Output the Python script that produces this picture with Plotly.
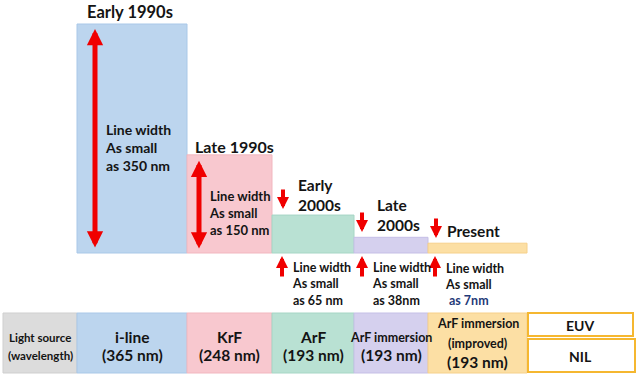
import plotly.graph_objects as go

W, H = 640, 376

# ---------------- data ----------------
technologies = ["i-line", "KrF", "ArF", "ArF immersion", "ArF immersion"]
tech_notes = ["", "", "", "", "(improved)"]
wavelengths = ["(365 nm)", "(248 nm)", "(193 nm)", "(193 nm)", "(193 nm)"]
eras = ["Early 1990s", "Late 1990s", "Early<br>2000s", "Late<br>2000s", "Present"]
min_line_width = ["as 350 nm", "as 150 nm", "as 65 nm", "as 38nm", "as 7nm"]
bar_heights = [350, 150, 58, 24, 15]   # visual bar heights (nm-equivalent scale)
next_gen = ["EUV", "NIL"]
header = ["Light source", "(wavelength)"]

# ---------------- styles / layout ----------------
fills = ["#bcd5ee", "#f8c8cf", "#b9e1d3", "#d5d0ee", "#fcdfa4"]
edges = ["#a9c8e8", "#f2b7bf", "#a6d6c5", "#c5bfe6", "#f6d08a"]
col_edges = [77, 187, 272, 354, 428, 527]     # pixel column boundaries
centers = [(a + b) / 2 for a, b in zip(col_edges[:-1], col_edges[1:])]
widths = [b - a for a, b in zip(col_edges[:-1], col_edges[1:])]
BASE_PX = 253
PX_PER_UNIT = 229 / 350
RED = "#f00000"
TXT = "#141414"
FONT = "Lato"

y_lo = -(H - BASE_PX) / PX_PER_UNIT
y_hi = BASE_PX / PX_PER_UNIT


def top_px(h):
    return BASE_PX - h * PX_PER_UNIT


fig = go.Figure()
fig.add_trace(go.Bar(
    x=centers, y=bar_heights, width=widths, base=0,
    marker=dict(color=fills, line=dict(color=edges, width=1)),
    hoverinfo="skip", showlegend=False,
))

annotations = []
shapes = []


def ann(text, px, py, size, anchor="left", bold=True, color=TXT):
    annotations.append(dict(
        text=text, xref="paper", yref="paper", x=px / W, y=1 - py / H,
        xanchor=anchor, yanchor="middle", showarrow=False, align=anchor,
        font=dict(family=FONT, size=size, color=color, weight="bold" if bold else "normal"),
    ))


def arrow(px, head_py, tail_py, both=False, width=4, size=0.6):
    annotations.append(dict(
        text="", xref="paper", yref="paper", x=px / W, y=1 - head_py / H,
        ax=0, ay=tail_py - head_py, showarrow=True, arrowhead=2, startarrowhead=2,
        arrowside="end+start" if both else "end", arrowwidth=width, arrowsize=size,
        startarrowsize=size, arrowcolor=RED, standoff=0, startstandoff=0,
    ))


# era headings
ann(eras[0], 130, 12, 16.5, "center")
ann(eras[1], 234, 146, 16, "center")
ann(eras[2], 296, 195, 15.5)
ann(eras[3], 375, 215, 15.5)
ann(eras[4], 445, 231, 15.5)

# big double arrows inside first two bars
arrow(95, top_px(bar_heights[0]) + 5, BASE_PX - 4, both=True, width=5, size=0.65)
arrow(199, top_px(bar_heights[1]) + 6, BASE_PX - 3, both=True, width=5, size=0.65)

# small down arrows next to later era labels
for xa, ya in [(283, 188), (362, 211), (436, 217)]:
    arrow(xa, ya + 21, ya, width=4, size=0.6)

# small up arrows under the later bars
for xa in [282, 362, 435]:
    arrow(xa, 256, 278, width=4, size=0.6)

# line-width texts
ann("Line width<br>As small<br>" + min_line_width[0], 103, 148, 14)
ann("Line width<br>As small<br>" + min_line_width[1], 207, 213, 13)
ann("Line width<br>As small<br>" + min_line_width[2], 290, 284, 12.5)
ann("Line width<br>As small<br>" + min_line_width[3], 370, 284, 12.5)
ann("Line width<br>As small", 443, 276, 12.5)
ann(min_line_width[4], 447, 300, 12.5, color="#1f3a78")

# ---------------- table ----------------
TOP, BOT = 313, 373
shapes.append(dict(type="rect", xref="x", yref="paper", x0=3, x1=col_edges[0],
                   y0=1 - BOT / H, y1=1 - TOP / H, fillcolor="#dcdcdc",
                   line=dict(color="#cfcfcf", width=1), layer="below"))
for i in range(5):
    shapes.append(dict(type="rect", xref="x", yref="paper", x0=col_edges[i], x1=col_edges[i + 1],
                       y0=1 - BOT / H, y1=1 - TOP / H, fillcolor=fills[i],
                       line=dict(color=edges[i], width=1), layer="below"))
ORANGE = "#f5b730"
shapes.append(dict(type="rect", xref="x", yref="paper", x0=528, x1=633,
                   y0=1 - 336 / H, y1=1 - 313 / H, fillcolor="white", line=dict(color=ORANGE, width=2)))
shapes.append(dict(type="rect", xref="x", yref="paper", x0=528, x1=635,
                   y0=1 - 372 / H, y1=1 - 339 / H, fillcolor="white", line=dict(color=ORANGE, width=2)))

ann(header[0], 40, 337, 11.5, "center")
ann(header[1], 40, 355, 11.5, "center")
for i in range(4):
    ann(technologies[i], centers[i], 337, 15.5 if i < 3 else 12.5, "center")
    ann(wavelengths[i], centers[i], 355, 15.5, "center")
ann(technologies[4], centers[4], 323, 12.5, "center")
ann(tech_notes[4], centers[4], 343, 12.5, "center")
ann(wavelengths[4], centers[4], 362, 15.5, "center")
ann(next_gen[0], 580, 325, 14, "center")
ann(next_gen[1], 580, 356, 14, "center")

fig.update_layout(
    width=W, height=H, margin=dict(l=0, r=0, t=0, b=0),
    paper_bgcolor="white", plot_bgcolor="white",
    xaxis=dict(range=[0, W], visible=False, fixedrange=True),
    yaxis=dict(range=[y_lo, y_hi], visible=False, fixedrange=True),
    annotations=annotations, shapes=shapes, showlegend=False,
)
fig.write_html("out.html", config={"displayModeBar": False},
               post_script="document.body.style.margin='0';document.body.style.overflow='hidden';")
